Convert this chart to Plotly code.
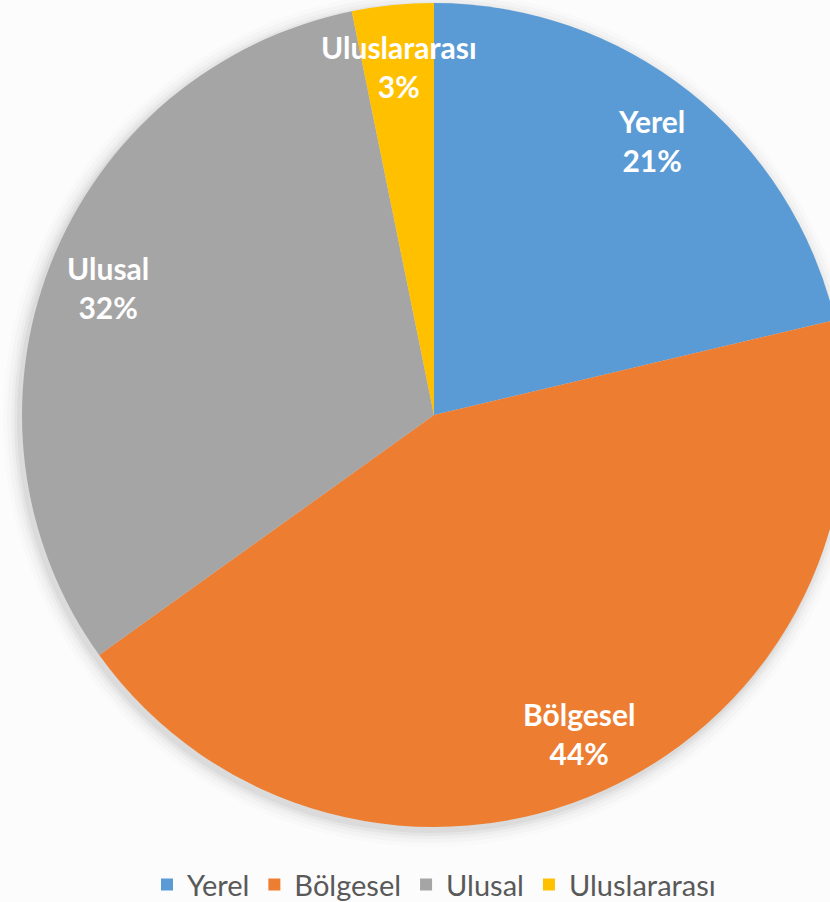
import math
import plotly.graph_objects as go

labels = ["Yerel", "Bölgesel", "Ulusal", "Uluslararası"]
values = [21.3, 43.8, 31.7, 3.2]
colors = ["#5B9BD5", "#ED7D31", "#A5A5A5", "#FFC000"]

W, H = 866, 902
ML, MR, MT, MB = 22, 20, 3, 75
PW = W - ML - MR
PH = H - MT - MB

fig = go.Figure()
fig.add_trace(go.Pie(
    labels=labels, values=values, sort=False, direction="clockwise", rotation=0,
    marker=dict(colors=colors, line=dict(width=0)),
    textinfo="none", hoverinfo="label+percent",
    domain=dict(x=[0, 1], y=[0, 1]),
))

# soft shadow behind the pie
for grow, op in [(16, 0.012), (12, 0.018), (8, 0.025), (5, 0.035), (2, 0.045)]:
    gx = grow / PW
    gy = grow / PH
    fig.add_shape(type="circle", xref="paper", yref="paper", layer="below",
                  x0=0 - gx - 3 / PW, x1=1 + gx - 3 / PW, y0=0 - gy - 4 / PH, y1=1 + gy - 4 / PH,
                  fillcolor=f"rgba(0,0,0,{op})", line=dict(width=0))

# labels at ~0.85 radius, derived from the data
total = sum(values)
cum = 0.0
for lab, v in zip(labels, values):
    mid = (cum + v / 2) / total * 2 * math.pi
    cum += v
    r = 0.85 * 0.5
    x = 0.5 + r * math.sin(mid)
    y = 0.5 + r * math.cos(mid)
    pct = round(v / total * 100)
    fig.add_annotation(x=x, y=y, xref="paper", yref="paper", showarrow=False,
                       text=f"<b>{lab}</b><br><b>{pct}%</b>",
                       font=dict(family="Lato", size=30, color="white"),
                       align="center", xanchor="center", yanchor="middle")

fig.update_layout(
    width=W, height=H,
    margin=dict(l=ML, r=MR, t=MT, b=MB, autoexpand=False),
    paper_bgcolor="#fcfcfc", plot_bgcolor="#fcfcfc",
    showlegend=True,
    legend=dict(orientation="h", x=0.5, xanchor="center", y=-0.07, yanchor="middle",
                font=dict(family="Lato", size=29, color="#595959"),
                itemwidth=30, traceorder="normal"),
)

fig.write_html("out.html", config={"displayModeBar": False},
               post_script="document.body.style.overflow='hidden';document.body.style.margin='0';")
